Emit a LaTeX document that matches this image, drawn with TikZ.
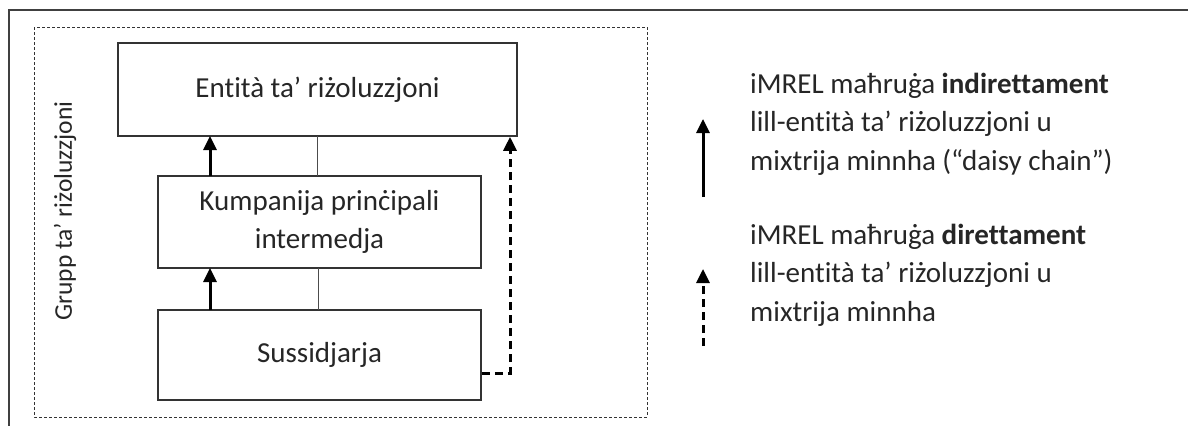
\documentclass[tikz,border=0pt]{standalone}
\usepackage{fontspec}
\setmainfont{Carlito}[Ligatures={NoCommon}]
\usetikzlibrary{arrows.meta}
\begin{document}
\begin{tikzpicture}[x=1pt,y=-1pt,
  every node/.style={font=\fontsize{29}{38.5}\selectfont, text=black!85},
  entbox/.style={draw=black!80, line width=1.6pt, minimum width=#1, inner sep=0pt, align=center},
  tip/.style={-{Triangle[width=13pt,length=14pt]}},
  solidarrow/.style={tip, line width=3pt, black},
  dasharrow/.style={tip, line width=3pt, black, dash pattern=on 8pt off 5pt},
  thinline/.style={line width=1pt, black!70},
  groupframe/.style={draw=black!80, line width=1pt, dash pattern=on 3pt off 2pt}
]
\useasboundingbox (0,0) rectangle (1188,426);
% outer frame (top and left only)
\draw[line width=2.2pt, black!75] (1188,10) -- (9,10) -- (9,426);
% group frame
\draw[groupframe] (34,27) rectangle (647,417);
\node[rotate=90, font=\fontsize{25.5}{30}\selectfont] (glabel) at (65,211) {Grupp ta’ riżoluzzjoni};
% boxes
\node[entbox=399pt, minimum height=93pt] (res) at (317.5,89.5) {Entità ta’ riżoluzzjoni};
\node[entbox=323pt, minimum height=92pt] (ipc) at (319.5,222) {Kumpanija prinċipali\\intermedja};
\node[entbox=323pt, minimum height=90pt] (sub) at (319.5,355) {Sussidjarja};
% connectors
\draw[solidarrow] (210,176) -- (210,136);
\draw[solidarrow] (210,310) -- (210,268);
\draw[thinline] (317,136) -- (317,176);
\draw[thinline] (318,268) -- (318,310);
\coordinate (dcorner) at (510,373);
\draw[dasharrow] (sub.east |- dcorner) -- (dcorner) -- (dcorner |- res.south);
% legend
\coordinate (l1s) at (703,197);
\coordinate (l1e) at (703,119);
\draw[solidarrow] (l1s) -- (l1e);
\coordinate (l2s) at (703,346);
\coordinate (l2e) at (703,269);
\draw[dasharrow] (l2s) -- (l2e);
\node[anchor=west, align=left, inner sep=0pt] (leg1) at (750,124) {iMREL maħruġa \textbf{indirettament}\\lill-entità ta’ riżoluzzjoni u\\mixtrija minnha (“daisy chain”)};
\node[anchor=west, align=left, inner sep=0pt] (leg2) at (750,275) {iMREL maħruġa \textbf{direttament}\\lill-entità ta’ riżoluzzjoni u\\mixtrija minnha};
\end{tikzpicture}
\end{document}
